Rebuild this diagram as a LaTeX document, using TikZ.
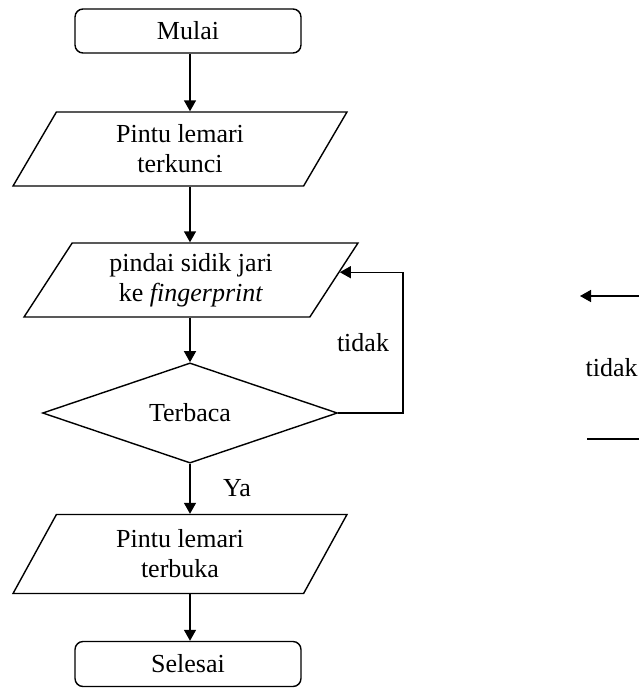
\documentclass[tikz,border=0pt]{standalone}
\usepackage{fontspec}
\setmainfont{Liberation Serif}
\usetikzlibrary{shapes.geometric, arrows.meta, positioning}

\begin{document}
\begin{tikzpicture}[
        x=0.02cm, y=-0.02cm,
        font=\fontsize{14.8pt}{17pt}\selectfont,
        line width=0.8pt,
        terminal/.style = {rectangle, rounded corners=0.16cm, draw, minimum width=4.52cm, minimum height=0.88cm, inner sep=0pt},
        io/.style = {trapezium, trapezium left angle=48, trapezium right angle=132, trapezium stretches body, draw, minimum width=6.68cm, minimum height=1.48cm, inner sep=0pt, align=center},
        decision/.style = {diamond, draw, minimum width=5.9cm, minimum height=1.96cm, inner sep=0pt},
        arr/.style = {-{Triangle[length=0.22cm, width=0.24cm]}}
    ]

    \useasboundingbox (0,0) rectangle (639,690);

    % flowchart
    \node [terminal] (start) at (188,31) {Mulai};
    \node [io] (locked) at (180,149) {Pintu lemari\\terkunci};
    \node [io] (scan) at (191,280) {pindai sidik jari\\ke \textit{fingerprint}};
    \node [decision] (read) at (190,413) {Terbaca};
    \node [io, minimum height=1.58cm] (open) at (180,554) {Pintu lemari\\terbuka};
    \node [terminal, minimum height=0.9cm] (stop) at (188,664) {Selesai};

    \draw [arr] (read |- start.south) -- (read |- locked.north);
    \draw [arr] (read |- locked.south) -- (read |- scan.north);
    \draw [arr] (read |- scan.south) -- (read.north);
    \draw [arr] (read.south) -- (read |- open.north);
    \draw [arr] (read |- open.south) -- (read |- stop.north);
    \draw [arr] (read.east) -- ++(65,0) |- (scan.3);

    \node (no) at (363,343) {tidak};
    \node (yes) at (237,488) {Ya};

    % cut-off part on the right
    \coordinate (rtop) at (639,296);
    \coordinate (rtopend) at (580,296);
    \coordinate (rbot) at (587,439);
    \coordinate (rbotend) at (639,439);
    \draw [arr] (rtop) -- (rtopend);
    \draw (rbot) -- (rbotend);
    \node [anchor=west, inner sep=0pt] (no2) at (585,368) {tidak};

\end{tikzpicture}
\end{document}
